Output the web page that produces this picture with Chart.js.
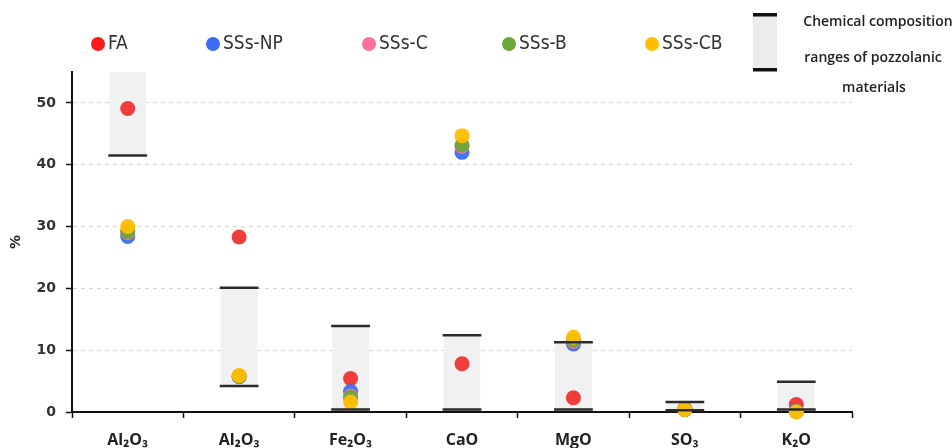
<!DOCTYPE html>
<html>
<head>
<meta charset="utf-8">
<script src="https://cdn.jsdelivr.net/npm/chart.js@4.4.0/dist/chart.umd.min.js"></script>
<style>
  html, body { margin: 0; padding: 0; background: #fff; }
  #wrap { width: 952px; height: 448px; position: relative; }
</style>
</head>
<body>
<div id="wrap"><canvas id="myChart" width="952" height="448"></canvas></div>
<script>
// data
const categories = ['Al₂O₃', 'Al₂O₃', 'Fe₂O₃', 'CaO', 'MgO', 'SO₃', 'K₂O'];
const faValues = [49.1, 28.3, 5.4, 7.8, 2.3, 0.5, 1.2];
const npValues = [28.4, 5.7, 3.3, 42.0, 11.0, 0.4, 0.2];
const cValues = [29.0, 5.8, 2.6, 43.0, 11.4, 0.4, 0.1];
const bValues = [29.2, 5.8, 2.4, 43.2, 11.6, 0.4, 0.1];
const cbValues = [30.0, 5.9, 1.6, 44.7, 12.1, 0.4, 0.0];
const rangeLow = [41.5, 4.2, 0.4, 0.4, 0.4, 0.3, 0.4];
const rangeHigh = [55, 20.1, 13.9, 12.4, 11.3, 1.6, 4.9];
const yTicks = [0, 10, 20, 30, 40, 50];

const series = [
    { label: 'FA', data: faValues, color: 'rgba(240,50,50,0.95)', legendColor: '#ff1a1a', lx: 98 },
    { label: 'SSs-NP', data: npValues, color: 'rgba(60,110,240,0.95)', legendColor: '#3a6cf4', lx: 213 },
    { label: 'SSs-C', data: cValues, color: 'rgba(255,110,160,0.95)', legendColor: '#ff6f9f', lx: 369 },
    { label: 'SSs-B', data: bValues, color: 'rgba(105,168,60,0.95)', legendColor: '#6aa83c', lx: 509 },
    { label: 'SSs-CB', data: cbValues, color: 'rgba(255,190,0,0.95)', legendColor: '#ffbf00', lx: 652 }
];

const datasets = [{
    type: 'bar',
    label: 'range',
    data: rangeLow.map((l, i) => [l, rangeHigh[i]]),
    backgroundColor: '#f1f1f1',
    barPercentage: 0.33,
    categoryPercentage: 1,
    order: 10
}];
series.forEach((s, i) => {
    datasets.push({
        type: 'line',
        label: s.label,
        data: s.data,
        showLine: false,
        clip: false,
        pointRadius: 7.5,
        pointHoverRadius: 7.5,
        pointBorderWidth: 0,
        pointBackgroundColor: s.color,
        backgroundColor: s.color,
        order: 5 - i
    });
});

// black lines at both ends of the range boxes
const rangeLines = {
    id: 'rangeLines',
    afterDatasetsDraw(chart) {
        const ctx = chart.ctx;
        const meta = chart.getDatasetMeta(0);
        const yScale = chart.scales.y;
        ctx.save();
        ctx.strokeStyle = '#2b2b2b';
        ctx.lineWidth = 2.5;
        meta.data.forEach((bar, i) => {
            const half = bar.width / 2;
            const ends = [rangeLow[i], rangeHigh[i]];
            ends.forEach(v => {
                if (v >= yScale.max) return;
                const py = yScale.getPixelForValue(v);
                ctx.beginPath();
                ctx.moveTo(bar.x - half - 1, py);
                ctx.lineTo(bar.x + half + 1, py);
                ctx.stroke();
            });
        });
        ctx.restore();
    }
};

// legend drawn by hand to follow the original layout
const customLegend = {
    id: 'customLegend',
    afterDraw(chart) {
        const ctx = chart.ctx;
        ctx.save();
        ctx.textBaseline = 'middle';
        ctx.textAlign = 'left';
        ctx.font = '19px "Liberation Sans Narrow", "DejaVu Sans Condensed", sans-serif';
        series.forEach(s => {
            ctx.fillStyle = s.legendColor;
            ctx.beginPath();
            ctx.arc(s.lx, 44, 7, 0, Math.PI * 2);
            ctx.fill();
            ctx.fillStyle = '#333';
            ctx.fillText(s.label, s.lx + 10, 44);
        });

        // range symbol
        ctx.fillStyle = '#ececec';
        ctx.fillRect(753, 15, 24, 55);
        ctx.fillStyle = '#111';
        ctx.fillRect(753, 13, 24, 3.5);
        ctx.fillRect(753, 68, 24, 3.5);

        ctx.fillStyle = '#222';
        ctx.textAlign = 'center';
        ctx.font = '600 14px "Open Sans", "DejaVu Sans Condensed", sans-serif';
        ctx.fillText('Chemical composition', 878, 22);
        ctx.fillText('ranges of pozzolanic', 873, 58);
        ctx.fillText('materials', 874, 88);
        ctx.restore();
    }
};

const config = {
    type: 'bar',
    data: { labels: categories, datasets: datasets },
    options: {
        responsive: false,
        animation: false,
        layout: { padding: { top: 72, right: 100, left: 0, bottom: 0 } },
        plugins: { legend: { display: false }, tooltip: { enabled: false } },
        scales: {
            x: {
                grid: {
                    display: true,
                    drawOnChartArea: false,
                    tickColor: '#111',
                    tickLength: 6,
                    tickWidth: 1.5
                },
                border: { color: '#111', width: 2 },
                ticks: {
                    color: '#222',
                    padding: 13,
                    font: { family: '"Open Sans", "DejaVu Sans", sans-serif', size: 16, weight: 'bold' }
                },
                afterFit(scale) { scale.height = 36; }
            },
            y: {
                min: 0,
                max: 55,
                afterBuildTicks(scale) { scale.ticks = yTicks.map(v => ({ value: v })); },
                grid: {
                    color: '#d6d6d6',
                    lineWidth: 1,
                    tickColor: '#111',
                    tickLength: 6,
                    tickWidth: 1.5,
                    tickBorderDash: []
                },
                border: { color: '#111', width: 2, dash: [4, 4] },
                ticks: {
                    color: '#333',
                    padding: 10,
                    font: { family: '"DejaVu Sans", sans-serif', size: 14, weight: 'bold' }
                },
                title: {
                    display: true,
                    text: '%',
                    color: '#222',
                    padding: { top: 8, bottom: 0 },
                    font: { family: '"DejaVu Sans", sans-serif', size: 14, weight: 'bold' }
                },
                afterFit(scale) { scale.width = 72; }
            }
        }
    },
    plugins: [rangeLines, customLegend]
};

const myChart = new Chart(document.getElementById('myChart'), config);
</script>
</body>
</html>
